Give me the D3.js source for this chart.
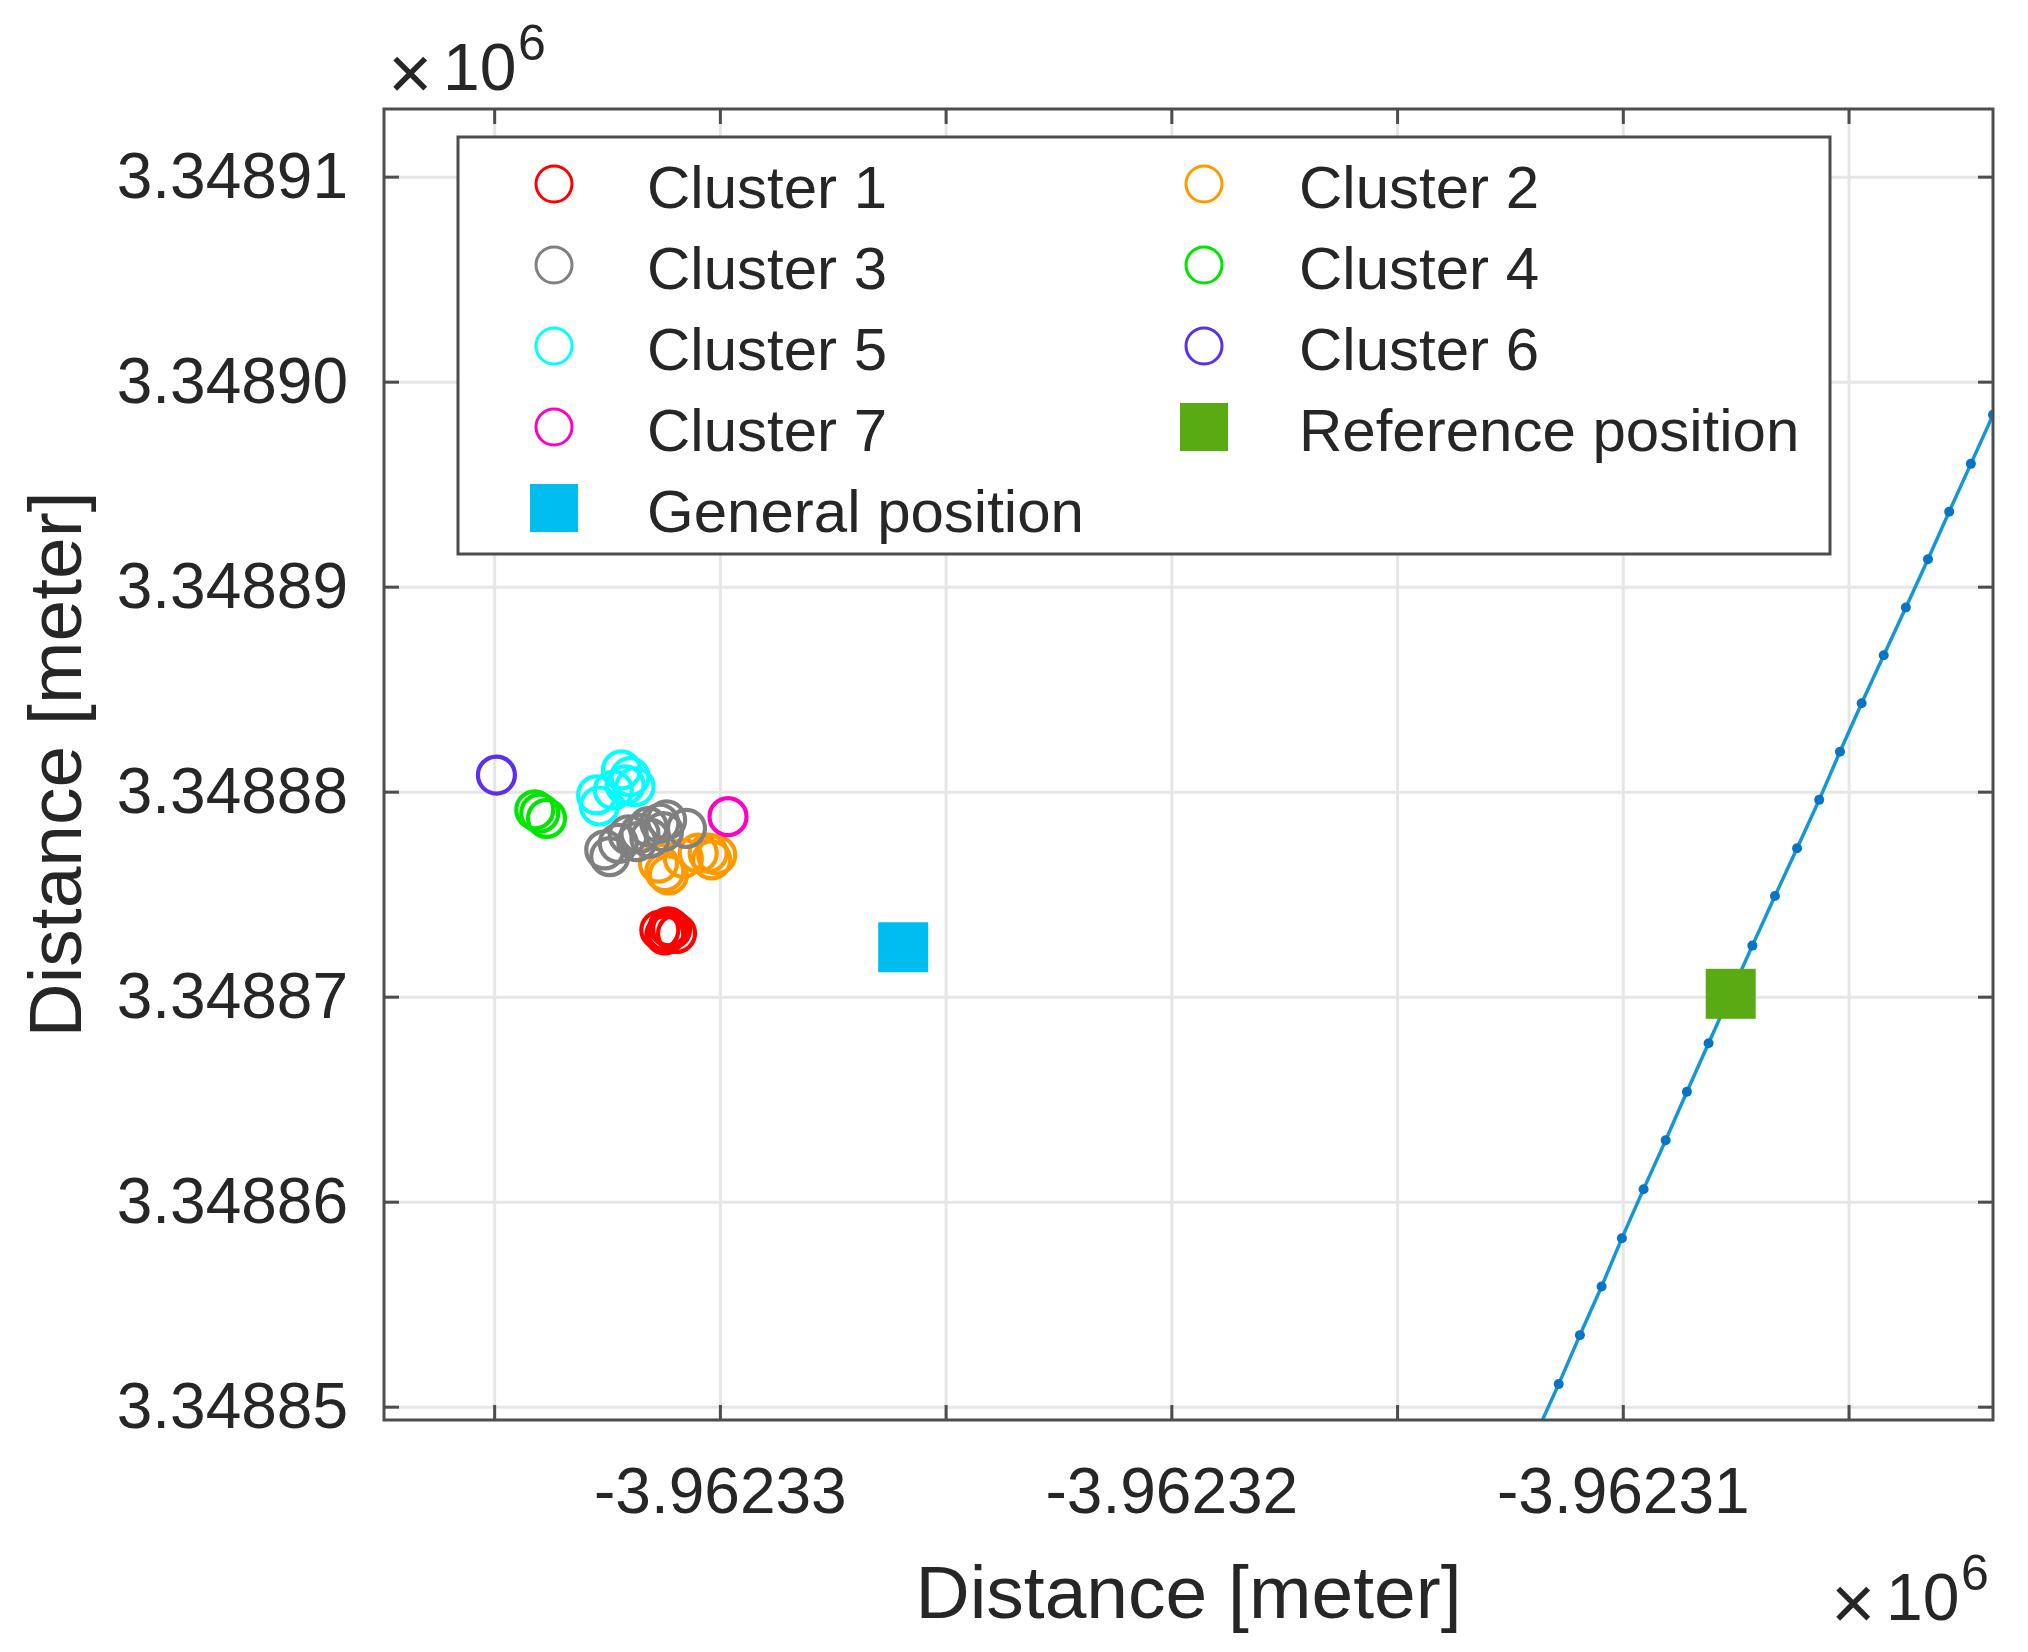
<!DOCTYPE html>
<html>
<head>
<meta charset="utf-8">
<script src="https://cdn.jsdelivr.net/npm/d3@7"></script>
<style>
body { margin: 0; background: #fff; }
text { font-family: "Liberation Sans", Arial, sans-serif; fill: #262626; }
.grid line { stroke: #e6e6e6; stroke-width: 3; }
.grid path { display: none; }
.ticks line { stroke: #4d4d4d; stroke-width: 3; }
.ticks path { display: none; }
.ticks text { font-size: 64px; fill: #262626; }
</style>
</head>
<body>
<div id="chart"></div>
<script>
// positions in meters (axis shows them x10^6)
const cluster1 = [[-3962331.33, 3348873.25], [-3962331.18, 3348873.17], [-3962331.07, 3348873.29],
                  [-3962330.96, 3348873.09], [-3962331.14, 3348873.41], [-3962331.22, 3348873.01]];
const cluster2 = [[-3962331.36, 3348876.51], [-3962331.22, 3348876.10], [-3962331.14, 3348875.94],
                  [-3962330.81, 3348876.75], [-3962330.48, 3348877.00], [-3962330.26, 3348877.00],
                  [-3962330.07, 3348876.91], [-3962330.18, 3348876.67]];
const cluster3 = [[-3962332.55, 3348877.16], [-3962332.44, 3348876.83], [-3962332.25, 3348877.48],
                  [-3962332.03, 3348877.89], [-3962331.77, 3348877.97], [-3962331.59, 3348878.29],
                  [-3962331.33, 3348878.46], [-3962331.18, 3348878.62], [-3962330.74, 3348878.21],
                  [-3962331.55, 3348877.73], [-3962331.84, 3348877.56], [-3962331.25, 3348878.05]];
const cluster4 = [[-3962334.10, 3348879.11], [-3962333.99, 3348878.95], [-3962333.84, 3348878.70]];
const cluster5 = [[-3962332.73, 3348879.84], [-3962332.67, 3348879.30], [-3962332.18, 3348881.06],
                  [-3962331.99, 3348880.73], [-3962331.88, 3348880.24], [-3962332.10, 3348880.33],
                  [-3962332.36, 3348880.08]];
const cluster6 = [[-3962334.95, 3348880.81]];
const cluster7 = [[-3962329.82, 3348878.78]];

const generalPos = [-3962325.94, 3348872.41];
const referencePos = [-3962307.61, 3348870.14];

const trackX = [-3962311.90, -3962311.42, -3962310.95, -3962310.47, -3962310.02, -3962309.54,
                -3962309.05, -3962308.58, -3962308.10, -3962307.61, -3962307.13, -3962306.63,
                -3962306.14, -3962305.65, -3962305.19, -3962304.71, -3962304.22, -3962303.73,
                -3962303.24, -3962302.77, -3962302.29, -3962301.80, -3962301.32];
const trackY = [3348848.77, 3348851.10, 3348853.49, 3348855.86, 3348858.22, 3348860.61,
                3348863.00, 3348865.36, 3348867.73, 3348870.13, 3348872.49, 3348874.91,
                3348877.24, 3348879.60, 3348881.95, 3348884.31, 3348886.65, 3348888.98,
                3348891.34, 3348893.66, 3348895.99, 3348898.38, 3348900.72];

const xTicks = [-3962335, -3962330, -3962325, -3962320, -3962315, -3962310, -3962305];
const xLabelled = [-3962330, -3962320, -3962310];
const yTicks = [3348850, 3348860, 3348870, 3348880, 3348890, 3348900, 3348910];

const clusterNames = ["Cluster 1", "Cluster 2", "Cluster 3", "Cluster 4", "Cluster 5", "Cluster 6", "Cluster 7"];
const clusterColors = ["#ff0000", "#ff9900", "#808080", "#00e600", "#00ffff", "#5b2ef0", "#ff00c8"];

var margin = {top: 109, right: 35, bottom: 232, left: 384};
var width = 2028 - margin.left - margin.right;
var height = 1652 - margin.top - margin.bottom;

var svg = d3.select("#chart").append("svg")
    .attr("width", 2028)
    .attr("height", 1652);
var g = svg.append("g")
    .attr("transform", "translate(" + margin.left + "," + margin.top + ")");

var xScale = d3.scaleLinear().domain([-3962337.44, -3962301.80]).range([0, width]);
var yScale = d3.scaleLinear().domain([3348849.35, 3348913.30]).range([height, 0]);

var fmt = d => (d / 1e6).toFixed(5);

// grid
g.append("g").attr("class", "grid")
    .attr("transform", "translate(0," + height + ")")
    .call(d3.axisBottom(xScale).tickValues(xTicks).tickSize(-height).tickFormat(""));
g.append("g").attr("class", "grid")
    .call(d3.axisLeft(yScale).tickValues(yTicks).tickSize(-width).tickFormat(""));

svg.append("defs").append("clipPath").attr("id", "plotclip")
    .append("rect").attr("width", width).attr("height", height);
var plot = g.append("g").attr("clip-path", "url(#plotclip)");

// track line with dots
var track = trackX.map((d, i) => [d, trackY[i]]);
plot.append("path")
    .datum(track)
    .attr("fill", "none")
    .attr("stroke", "#1496d7")
    .attr("stroke-width", 3.5)
    .attr("d", d3.line().x(d => xScale(d[0])).y(d => yScale(d[1])));
plot.selectAll(".dot").data(track).enter().append("circle")
    .attr("class", "dot")
    .attr("cx", d => xScale(d[0]))
    .attr("cy", d => yScale(d[1]))
    .attr("r", 5)
    .attr("fill", "#0a74c4");

// clusters
var clusters = [cluster1, cluster2, cluster3, cluster4, cluster5, cluster6, cluster7];
clusters.forEach(function (pts, k) {
    plot.selectAll(".c" + k).data(pts).enter().append("circle")
        .attr("class", "c" + k)
        .attr("cx", d => xScale(d[0]))
        .attr("cy", d => yScale(d[1]))
        .attr("r", 18.5)
        .attr("fill", "none")
        .attr("stroke", clusterColors[k])
        .attr("stroke-width", 4.2);
});

// squares
var sq = 50;
plot.append("rect")
    .attr("x", xScale(generalPos[0]) - sq / 2)
    .attr("y", yScale(generalPos[1]) - sq / 2)
    .attr("width", sq).attr("height", sq)
    .attr("fill", "#00bdf0");
plot.append("rect")
    .attr("x", xScale(referencePos[0]) - sq / 2)
    .attr("y", yScale(referencePos[1]) - sq / 2)
    .attr("width", sq).attr("height", sq)
    .attr("fill", "#5aaa14");

// axes (inside ticks on all four sides)
g.append("g").attr("class", "ticks")
    .attr("transform", "translate(0," + height + ")")
    .call(d3.axisBottom(xScale).tickValues(xTicks).tickSize(-15).tickPadding(48)
        .tickFormat(d => xLabelled.indexOf(d) >= 0 ? fmt(d) : ""));
g.append("g").attr("class", "ticks")
    .call(d3.axisTop(xScale).tickValues(xTicks).tickSize(-15).tickFormat(""));
g.append("g").attr("class", "ticks")
    .call(d3.axisLeft(yScale).tickValues(yTicks).tickSize(-15).tickPadding(36).tickFormat(fmt));
g.append("g").attr("class", "ticks")
    .attr("transform", "translate(" + width + ",0)")
    .call(d3.axisRight(yScale).tickValues(yTicks).tickSize(-15).tickFormat(""));

g.append("rect")
    .attr("width", width).attr("height", height)
    .attr("fill", "none")
    .attr("stroke", "#4d4d4d")
    .attr("stroke-width", 3);

// exponent labels
function exponent(x, y) {
    svg.append("text").attr("x", x - 5).attr("y", y + 9)
        .attr("font-size", "76px").attr("fill", "#666").text("×");
    svg.append("text").attr("x", x + 50).attr("y", y)
        .attr("font-size", "66px").text("10");
    svg.append("text").attr("x", x + 125).attr("y", y - 30)
        .attr("font-size", "50px").text("6");
}
exponent(393, 90);
exponent(1836, 1620);

// axis labels
svg.append("text")
    .attr("x", margin.left + width / 2)
    .attr("y", 1618)
    .attr("text-anchor", "middle")
    .attr("font-size", "75px")
    .text("Distance [meter]");
svg.append("text")
    .attr("transform", "translate(81," + (margin.top + height / 2) + ") rotate(-90)")
    .attr("text-anchor", "middle")
    .attr("font-size", "75px")
    .text("Distance [meter]");

// legend
var legend = svg.append("g").attr("transform", "translate(458,137)");
legend.append("rect")
    .attr("width", 1372).attr("height", 417)
    .attr("fill", "#fff")
    .attr("stroke", "#4d4d4d")
    .attr("stroke-width", 3);

var legendItems = clusterNames.map((n, i) => ({name: n, type: "circle", color: clusterColors[i]}));
legendItems.push({name: "Reference position", type: "square", color: "#5aaa14"});
legendItems.push({name: "General position", type: "square", color: "#00bdf0"});

var cols = [{marker: 96, text: 189}, {marker: 746, text: 841}];
var items = legend.selectAll(".item").data(legendItems).enter().append("g")
    .attr("class", "item")
    .attr("transform", (d, i) => "translate(0," + (47 + Math.floor(i / 2) * 81) + ")");
items.each(function (d, i) {
    var c = cols[i % 2];
    var it = d3.select(this);
    if (d.type === "circle") {
        it.append("circle").attr("cx", c.marker).attr("r", 18)
            .attr("fill", "none").attr("stroke", d.color).attr("stroke-width", 3);
    } else {
        it.append("rect").attr("x", c.marker - 24).attr("y", -24)
            .attr("width", 48).attr("height", 48).attr("fill", d.color);
    }
    it.append("text").attr("x", c.text).attr("y", 24)
        .attr("font-size", "60px").attr("fill", "#000")
        .text(d.name);
});
</script>
</body>
</html>
